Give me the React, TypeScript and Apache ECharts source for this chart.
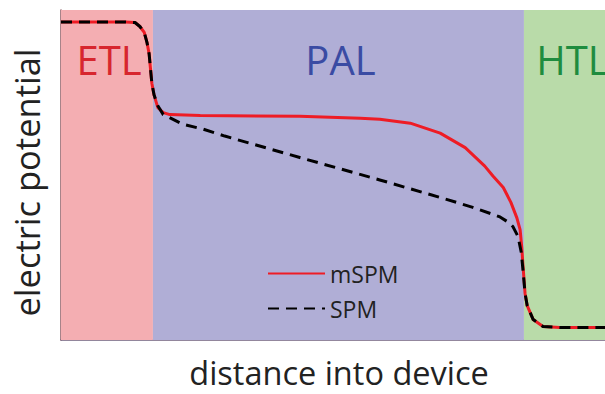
import React, { useEffect, useRef } from "react";
import * as echarts from "echarts";

// Position into the device (0 = ETL side, 100 = HTL side), potential in arbitrary units.
const mspmX = [0, 11.8, 13.6, 14.5, 15.3, 15.8, 16.2, 16.4, 16.7, 17.1, 17.8, 18.8, 20.0, 25.6, 43.9, 55.0, 58.6, 64.2, 69.7, 74.3, 77.9, 79.4, 81.3, 82.7, 83.8, 84.4, 84.7, 84.9, 85.3, 85.7, 86.8, 88.6, 91.7, 100];
const mspmY = [96.4, 96.4, 96.2, 95.0, 93.2, 90.2, 86.7, 83.1, 77.8, 74.3, 70.4, 68.9, 68.3, 68.0, 67.8, 67.2, 66.9, 65.7, 62.7, 58.3, 52.7, 49.7, 46.2, 41.7, 37.0, 33.4, 28.1, 23.1, 14.2, 10.4, 6.2, 4.1, 3.8, 3.8];

const spmX = [0, 11.8, 13.6, 14.5, 15.3, 15.8, 16.2, 16.4, 16.7, 17.1, 17.8, 18.8, 22.4, 26.1, 30.1, 43.9, 58.6, 69.7, 75.7, 80.7, 82.4, 83.1, 84.0, 84.6, 84.9, 85.3, 85.7, 86.8, 88.6, 91.7, 100];
const spmY = [96.4, 96.4, 96.2, 95.0, 93.2, 90.2, 86.7, 83.1, 77.8, 74.3, 71.0, 68.3, 65.4, 63.9, 61.8, 55.3, 48.5, 43.2, 40.2, 37.3, 35.5, 34.3, 31.4, 26.6, 21.6, 14.2, 10.4, 6.2, 4.1, 3.8, 3.8];

// Layer boundaries along the device
const layerNames = ["ETL", "PAL", "HTL"];
const layerStart = [0, 16.9, 85.1];
const layerEnd = [16.9, 85.1, 100];
const layerFill = ["#f4aeb2", "#b0aed6", "#b9dba9"];
const layerText = ["#d7262e", "#3a4ba3", "#1f8c3f"];
const layerOffset = [[2, 0], [2, 0], [8, 0]];

const seriesNames = ["mSPM", "SPM"];

export default function App() {
  const ref = useRef<HTMLDivElement>(null);

  useEffect(() => {
    if (!ref.current) return;
    const chart = echarts.init(ref.current, null, { renderer: "svg" });
    const font = "'Open Sans', 'Noto Sans', sans-serif";

    const areas = layerNames.map((name, i) => [
      {
        name,
        xAxis: layerStart[i],
        yAxis: 0,
        itemStyle: { color: layerFill[i], opacity: 1 },
        label: {
          show: true,
          position: "insideTop",
          distance: 29,
          offset: layerOffset[i],
          color: layerText[i],
          fontSize: 40,
          fontFamily: font,
        },
      },
      { xAxis: layerEnd[i], yAxis: 100 },
    ]);

    chart.setOption({
      animation: false,
      grid: { left: 61, top: 10, right: 0, bottom: 46 },
      legend: {
        orient: "vertical",
        left: 262,
        top: 257,
        itemWidth: 57,
        itemHeight: 14,
        itemGap: 12,
        itemStyle: { color: "transparent", borderColor: "transparent", borderWidth: 0, opacity: 0 },
        textStyle: { fontSize: 23, fontFamily: font, color: "#222" },
        data: seriesNames,
      },
      xAxis: {
        type: "value",
        min: 0,
        max: 100,
        name: "distance into device",
        nameLocation: "middle",
        nameGap: 16,
        nameTextStyle: {
          fontSize: 32.5,
          fontFamily: font,
          color: "#222",
          verticalAlign: "top",
          padding: [0, 0, 0, 12],
        },
        axisLine: { show: true, lineStyle: { color: "#6f5f7c", width: 1.5 } },
        axisTick: { show: false },
        axisLabel: { show: false },
        splitLine: { show: false },
      },
      yAxis: {
        type: "value",
        min: 0,
        max: 100,
        name: "electric potential",
        nameLocation: "middle",
        nameGap: 17,
        nameRotate: 90,
        nameTextStyle: { fontSize: 34.5, fontFamily: font, color: "#222", padding: [0, 15, 0, 0] },
        axisLine: { show: true, lineStyle: { color: "#8a5a62", width: 1.5 } },
        axisTick: { show: false },
        axisLabel: { show: false },
        splitLine: { show: false },
      },
      series: [
        {
          name: "mSPM",
          type: "line",
          data: mspmX.map((x, i) => [x, mspmY[i]]),
          symbol: "none",
          smooth: false,
          lineStyle: { color: "#ee1c25", width: 3, join: "round" },
          itemStyle: { color: "#ee1c25" },
          markArea: { silent: true, data: areas },
          z: 3,
        },
        {
          name: "SPM",
          type: "line",
          data: spmX.map((x, i) => [x, spmY[i]]),
          symbol: "none",
          smooth: false,
          lineStyle: { color: "#000", width: 3, type: [11, 7], join: "round" },
          itemStyle: { color: "#000" },
          z: 4,
        },
      ],
    });

    return () => chart.dispose();
  }, []);

  return (
    <div
      ref={ref}
      style={{ position: "fixed", left: 0, top: 0, width: 605, height: 394, background: "#fff" }}
    />
  );
}
